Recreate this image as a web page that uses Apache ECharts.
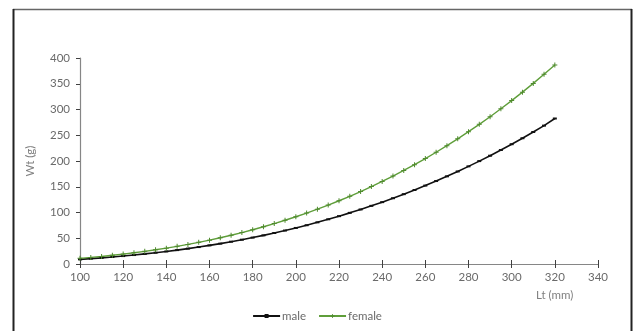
<!DOCTYPE html>
<html>
<head>
<meta charset="utf-8">
<script src="https://cdn.jsdelivr.net/npm/echarts@6/dist/echarts.min.js"></script>
<style>html,body{margin:0;padding:0;background:#fff}#c{width:634px;height:331px}</style>
</head>
<body>
<div id="c"></div>
<script>
var lengths = [100,105,110,115,120,125,130,135,140,145,150,155,160,165,170,175,180,185,190,195,200,205,210,215,220,225,230,235,240,245,250,255,260,265,270,275,280,285,290,295,300,305,310,315,320];
var maleWt = [9.0,10.4,11.9,13.6,15.4,17.4,19.6,21.9,24.4,27.0,29.9,32.9,36.2,39.6,43.3,47.2,51.3,55.6,60.2,65.0,70.0,75.3,80.9,86.8,92.9,99.3,105.9,112.9,120.1,127.7,135.6,143.7,152.3,161.1,170.2,179.7,189.6,199.8,210.3,221.3,232.6,244.2,256.3,268.7,282.5];
var femaleWt = [11.0,12.8,14.7,16.9,19.2,21.8,24.6,27.6,30.8,34.3,38.0,42.1,46.3,50.9,55.8,61.0,66.5,72.3,78.4,84.9,91.7,98.9,106.5,114.5,122.8,131.5,140.7,150.3,160.3,170.7,181.6,192.9,204.7,217.0,229.8,243.1,256.9,271.2,286.0,301.4,317.3,333.7,350.7,368.3,386.5];
var seriesNames = ['male','female'];
var xTitle = 'Lt (mm)';
var yTitle = 'Wt (g)';

function pairs(ys){ return lengths.map(function(l,i){ return [l, ys[i]]; }); }
var FONT = 'Lato';
var FS = 11.5;
var labelColor = '#6a6a6a';
var plusPath = 'path://M4,0 L6,0 L6,4 L10,4 L10,6 L6,6 L6,10 L4,10 L4,6 L0,6 L0,4 L4,4 Z';

var chart = echarts.init(document.getElementById('c'), null, {renderer:'canvas'});
chart.setOption({
  animation:false,
  backgroundColor:'#fff',
  grid:{left:80, right:36, top:58, bottom:67},
  legend:{
    data:seriesNames,
    left:'center', top:305, itemWidth:27, itemHeight:5, itemGap:12,
    textStyle:{fontFamily:FONT, fontSize:FS, color:labelColor, padding:[0,0,0,-3]}
  },
  xAxis:[{
    type:'value', min:100, max:340, interval:20, position:'bottom',
    axisLine:{lineStyle:{color:'#868686', width:1.2}},
    axisTick:{show:true, length:4, lineStyle:{color:'#404040'}},
    splitLine:{show:false},
    axisLabel:{fontFamily:FONT, fontSize:FS, color:labelColor, margin:7}
  },{
    type:'value', min:100, max:340, interval:20, position:'bottom', offset:0,
    axisLine:{show:false},
    axisTick:{show:true, inside:true, length:4, lineStyle:{color:'#404040'}},
    axisLabel:{show:false}, splitLine:{show:false}
  }],
  yAxis:{
    type:'value', min:0, max:400, interval:50,
    name:yTitle, nameLocation:'middle', nameGap:44,
    nameTextStyle:{fontFamily:FONT, fontSize:FS, color:'#808080'},
    axisLine:{show:true, lineStyle:{color:'#868686', width:1.2}},
    axisTick:{show:true, length:4, lineStyle:{color:'#404040'}},
    splitLine:{show:false},
    axisLabel:{fontFamily:FONT, fontSize:FS, color:labelColor, margin:10}
  },
  graphic:[
    {type:'line', shape:{x1:13, y1:9.5, x2:632, y2:9.5}, style:{stroke:'#666', lineWidth:1.5}, silent:true},
    {type:'line', shape:{x1:13.5, y1:9, x2:13.5, y2:340}, style:{stroke:'#222', lineWidth:2}, silent:true},
    {type:'line', shape:{x1:631.5, y1:9, x2:631.5, y2:340}, style:{stroke:'#222', lineWidth:2}, silent:true},
    {type:'text', left:536, top:289, style:{text:xTitle, font:FS + 'px Lato', fill:'#808080'}}
  ],
  series:[{
    name:seriesNames[0], type:'line', data:pairs(maleWt),
    symbol:'rect', symbolSize:[4,2], showSymbol:true,
    lineStyle:{color:'#111', width:1.6}, itemStyle:{color:'#111'}
  },{
    name:seriesNames[1], type:'line', data:pairs(femaleWt),
    symbol:plusPath, symbolSize:5, showSymbol:true,
    lineStyle:{color:'#5f9e3a', width:1.4}, itemStyle:{color:'#4f8a2e'}
  }]
});
</script>
</body>
</html>
